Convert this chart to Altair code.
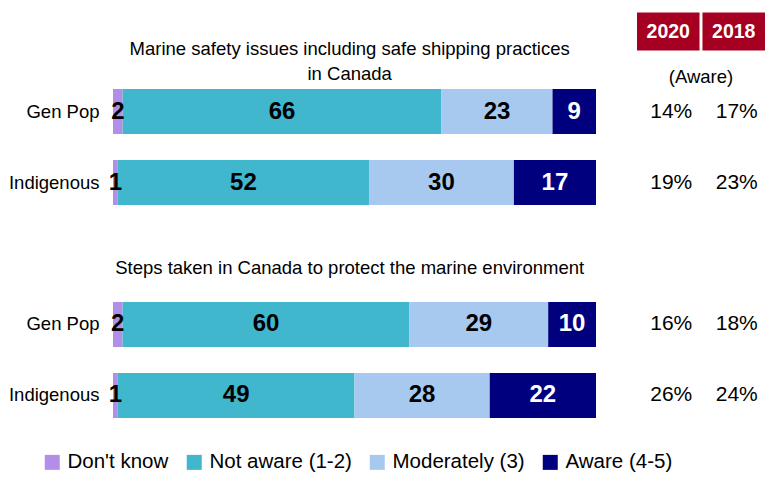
import altair as alt
import pandas as pd

# ---- data ----
row_keys = ["A_gp", "A_in", "B_gp", "B_in"]
row_labels = ["Gen Pop", "Indigenous", "Gen Pop", "Indigenous"]
categories = ["Don't know", "Not aware (1-2)", "Moderately (3)", "Aware (4-5)"]
dont_know = [2, 1, 2, 1]
not_aware = [66, 52, 60, 49]
moderately = [23, 30, 29, 28]
aware = [9, 17, 10, 22]
years = ["2020", "2018"]
aware_2020 = [14, 19, 16, 26]
aware_2018 = [17, 23, 18, 24]
title1 = ["Marine safety issues including safe shipping practices", "in Canada"]
title2 = "Steps taken in Canada to protect the marine environment"
table_sub = "(Aware)"

colors = ["#B18FE8", "#40B7CD", "#A7C9EF", "#00007F"]
FONT = "Liberation Sans, Arial"

row_domain = ["t1", "A_gp", "A_in", "t2", "B_gp", "B_in"]

recs = []
for i, r in enumerate(row_keys):
    for j, (c, vals) in enumerate(zip(categories, [dont_know, not_aware, moderately, aware])):
        recs.append({"row": r, "cat": c, "order": j, "value": vals[i]})
bars_df = pd.DataFrame(recs)

label_expr = " : ".join(
    [f"datum.value == '{k}' ? '{l}'" for k, l in zip(row_keys, row_labels)]
) + " : ''"

y_enc = alt.Y(
    "row:N",
    sort=row_domain,
    scale=alt.Scale(domain=row_domain, paddingInner=0.366, paddingOuter=0),
    axis=alt.Axis(
        title=None, ticks=False, domain=False, labelExpr=label_expr,
        labelFont=FONT, labelFontSize=18.5, labelColor="black", labelPadding=14,
    ),
)

# rows are shown as shares of their total (percentages are rounded)
base = alt.Chart(bars_df).transform_stack(
    stack="value", groupby=["row"], as_=["x0", "x1"], sort=[alt.SortField("order")],
    offset="normalize",
).transform_calculate(mid="(datum.x0 + datum.x1) / 2")

xscale = alt.Scale(domain=[0, 1], nice=False, zero=True)

bars = base.mark_bar(strokeWidth=0).encode(
    y=y_enc,
    x=alt.X("x0:Q", scale=xscale, axis=None),
    x2="x1:Q",
    color=alt.Color(
        "cat:N",
        scale=alt.Scale(domain=categories, range=colors),
        legend=alt.Legend(
            title=None, orient="none", direction="horizontal",
            legendX=-71, legendY=434, symbolType="square", symbolSize=225,
            symbolStrokeWidth=0, labelFont=FONT, labelFontSize=20.5,
            labelColor="black", columnPadding=15, labelOffset=5,
            symbolOpacity=1,
        ),
    ),
)

labels = base.mark_text(font=FONT, fontSize=24, fontWeight="bold", baseline="middle").encode(
    y=alt.Y("row:N", sort=row_domain),
    x=alt.X("mid:Q", scale=xscale),
    text="value:Q",
    color=alt.condition(alt.datum.cat == categories[-1], alt.value("white"), alt.value("black")),
)

t1 = alt.Chart(pd.DataFrame({"row": ["t1"], "txt": [title1]})).mark_text(
    font=FONT, fontSize=18.5, baseline="middle", lineHeight=25, dy=8, color="black"
).encode(y=alt.Y("row:N", sort=row_domain), x=alt.datum(0.49), text="txt")

t2 = alt.Chart(pd.DataFrame({"row": ["t2"], "txt": [title2]})).mark_text(
    font=FONT, fontSize=18.5, baseline="middle", dy=15, color="black"
).encode(y=alt.Y("row:N", sort=row_domain), x=alt.datum(0.49), text="txt")

left = alt.layer(bars, labels, t1, t2).properties(width=483, height=400)

# ---- table ----
trecs = []
for i, r in enumerate(row_keys):
    trecs.append({"row": r, "year": years[0], "txt": f"{aware_2020[i]}%"})
    trecs.append({"row": r, "year": years[1], "txt": f"{aware_2018[i]}%"})
table_df = pd.DataFrame(trecs)

x_tab = alt.X("year:N", sort=years,
              scale=alt.Scale(domain=years, paddingInner=0.045, paddingOuter=0), axis=None)
y_tab = alt.Y("row:N", sort=row_domain,
              scale=alt.Scale(domain=row_domain, paddingInner=0.366, paddingOuter=0), axis=None)

hdr_df = pd.DataFrame({"year": years, "row": ["t1", "t1"]})
hdr_rect = alt.Chart(hdr_df).mark_rect(color="#A50021", height=38, yOffset=-9).encode(x=x_tab, y=y_tab)
hdr_txt = alt.Chart(hdr_df).mark_text(
    font=FONT, fontSize=19.5, fontWeight="bold", color="white", dy=-9, baseline="middle"
).encode(x=x_tab, y=y_tab, text="year:N")
sub = alt.Chart(pd.DataFrame({"row": ["t1"], "txt": [table_sub]})).mark_text(
    font=FONT, fontSize=18.5, color="black", dy=36, baseline="middle"
).encode(x=alt.value(64), y=y_tab, text="txt")
vals = alt.Chart(table_df).mark_text(font=FONT, fontSize=21, color="black", baseline="middle", dx=3).encode(
    x=x_tab, y=y_tab, text="txt"
)
right = alt.layer(hdr_rect, hdr_txt, sub, vals).properties(width=128, height=400)

chart = alt.hconcat(left, right, spacing=41).properties(
    padding={"top": 4, "left": 0, "right": 0, "bottom": 0},
    background="white",
).configure_view(stroke=None)

chart.save("out.html", embed_options={"renderer": "svg", "actions": False})
